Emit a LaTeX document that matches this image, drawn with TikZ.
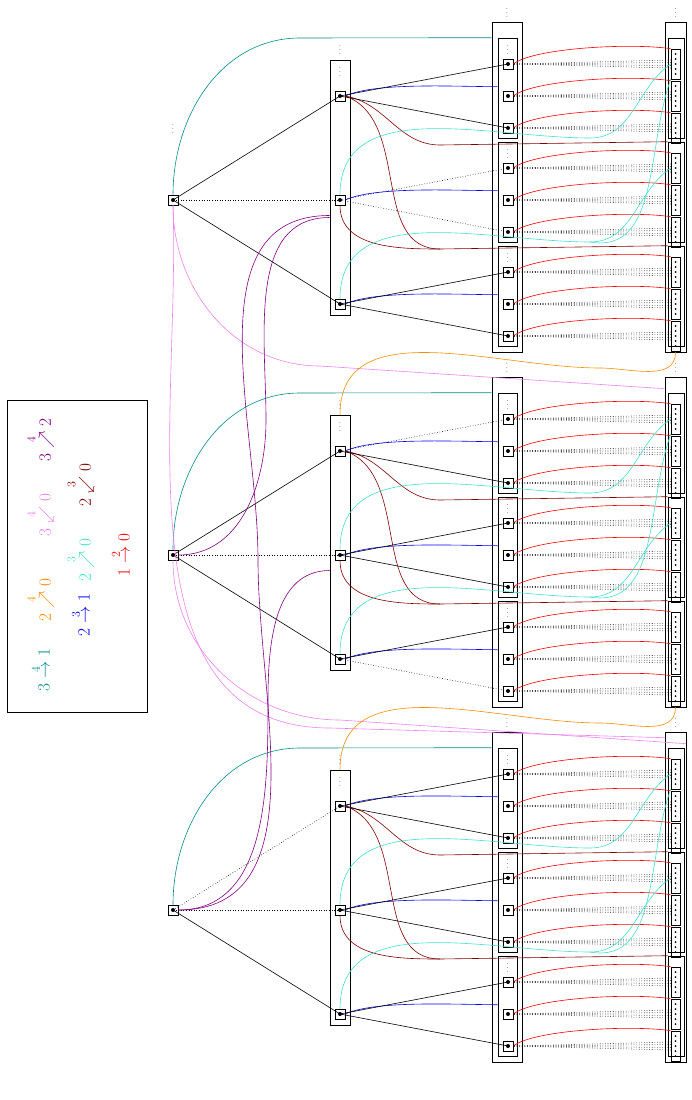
\documentclass[tikz,border=0pt]{standalone}
\usepackage{amsmath,amssymb}
\usepackage{xcolor}
\usetikzlibrary{calc}
\definecolor{tealc}{RGB}{0,140,140}
\definecolor{turq}{RGB}{64,224,208}
\definecolor{brownc}{RGB}{128,0,0}
\definecolor{purplec}{RGB}{128,0,128}
\definecolor{violetc}{RGB}{238,130,238}
\definecolor{orangec}{RGB}{255,140,0}
\tikzset{
  unit/.style={draw,minimum size=10pt,inner sep=0pt},
  cell/.style={draw,minimum width=9pt,minimum height=30pt,inner sep=0pt},
  frame/.style={draw,inner sep=0pt},
  legend/.style={rotate=90,anchor=west,font=\LARGE},
  dts/.style={font=\scriptsize,inner sep=0pt},
}
\begin{document}
\begin{tikzpicture}[x=1pt,y=-1pt,line width=0.6pt]
  \useasboundingbox (0,0) rectangle (692,1100);
  % legend
  \draw (7,400) rectangle (147,712);
  \node[legend,text=tealc] at (40,695) {$3\overset{4}{\to}1$};
  \node[legend,text=orangec] at (40,625) {$2\overset{4}{\nearrow}0$};
  \node[legend,text=violetc] at (40,540) {$3\overset{4}{\swarrow}0$};
  \node[legend,text=purplec] at (40,465) {$3\overset{4}{\nearrow}2$};
  \node[legend,text=blue] at (80,640) {$2\overset{3}{\to}1$};
  \node[legend,text=turq] at (80,585) {$2\overset{3}{\nearrow}0$};
  \node[legend,text=brownc] at (80,510) {$2\overset{3}{\swarrow}0$};
  \node[legend,text=red] at (120,580) {$1\overset{2}{\to}0$};
  \node[dts] at (173,126) {$\vdots$};
  \foreach \b in {0,1,2} {
    \begin{scope}[shift={(0,{355*\b})}]
      % level 0 and level 1
      \node[unit] (l0-\b) at (173,200) {};
      \fill (l0-\b) circle (2pt);
      \node[frame,minimum width=20pt,minimum height=255pt] (l1o-\b) at (340,187.5) {};
      \node[dts] at (340,47) {$\vdots$};
      \node[dts] at (340,69) {$\vdots$};
      % level 2 and level 3 frames
      \node[frame,minimum width=30pt,minimum height=330pt] (l2o-\b) at (507,187) {};
      \node[frame,minimum width=21pt,minimum height=330pt] (l3o-\b) at (675.5,187) {};
      \node[dts] at (507,10) {$\vdots$};
      \node[dts] at (675.5,10) {$\vdots$};
      \coordinate (tl-\b) at (300,38);
      \foreach \i/\y in {1/96,2/200,3/304} {
        \node[unit] (l1-\b-\i) at (340,\y) {};
        \fill (l1-\b-\i) circle (2pt);
        \node[frame,minimum width=19pt,minimum height=100pt] (l2b-\b-\i) at (507.5,{\y-8}) {};
        \node[frame,minimum width=16pt,minimum height=100pt] (l3b-\b-\i) at (676,{\y-8}) {};
        \node[dts] at (507.5,{\y-49}) {$\vdots$};
        \coordinate (tq-\b-\i) at (590,{\y+42});
        \coordinate (br-\b-\i) at (440,{\y-55});
        \foreach \j in {1,2,3} {
          \node[unit] (l2-\b-\i-\j) at (508,{\y+32*(\j-2)}) {};
          \fill (l2-\b-\i-\j) circle (2pt);
          \node[cell] (l3-\b-\i-\j) at (675.5,{\y+32*(\j-2)}) {};
          \foreach \d in {-10,-5,...,10}
            \fill ([yshift=\d pt]l3-\b-\i-\j.center) circle (1pt);
          \draw[red] (l2-\b-\i-\j.east) .. controls +(20,-16) and +(-40,-6) .. (l3-\b-\i-\j.north west);
          \foreach \o in {-4,-1.5,1.5,4}
            \draw[dotted] ([yshift=\o pt]l3-\b-\i-\j.west) -- (l2-\b-\i-\j.east);
        }
        \draw[blue] (l1-\b-\i.east) .. controls +(30,-14) and +(-40,0) .. ([yshift=4pt]l2b-\b-\i.west |- l2-\b-\i-2.north);
      }
      % brown
      \draw[brownc] (l1-\b-1.east) to[out=-10,in=180] (br-\b-2) -- (l3b-\b-2.north west);
      \draw[brownc] (l1-\b-1.east) to[out=-20,in=180] (br-\b-3) -- (l3b-\b-3.north west);
      \draw[brownc] (l1-\b-2.south) to[out=-90,in=180] (br-\b-3);
      % turquoise
      \draw[turq] (l1-\b-2.north) to[out=90,in=180] (tq-\b-1) to[out=0,in=215] (l3-\b-1-1.west);
      \draw[turq] (l1-\b-3.north) to[out=90,in=180] (tq-\b-2) to[out=0,in=215] (l3-\b-2-1.west);
      \draw[turq] (tq-\b-2) to[out=-10,in=250] (l3-\b-1-1.south west);
      % teal
      \draw[tealc] (l0-\b.north) to[out=90,in=180] (tl-\b) -- ([yshift=-16pt]l2o-\b.north west);
    \end{scope}
  }
  % level 0 to level 1
  \foreach \b/\sa/\sb/\sc in {0/solid/dotted/solid,1/solid/dotted/solid,2/dotted/dotted/solid} {
    \draw[\sa] (l0-\b.center) -- (l1-\b-1.center);
    \draw[\sb] (l0-\b.center) -- (l1-\b-2.center);
    \draw[\sc] (l0-\b.center) -- (l1-\b-3.center);
  }
  % level 1 to level 2
  \foreach \b/\i/\sa/\sb in {0/1/solid/solid,0/2/dotted/dotted,0/3/solid/solid,1/1/dotted/solid,1/2/solid/solid,1/3/solid/dotted,2/1/solid/solid,2/2/solid/solid,2/3/solid/solid} {
    \draw[\sa] (l1-\b-\i.center) -- (l2-\b-\i-1.center);
    \draw[\sb] (l1-\b-\i.center) -- (l2-\b-\i-3.center);
  }
  % violet
  \coordinate (vi-1) at (320,366);
  \coordinate (vi-2) at (330,728);
  \coordinate (vi-3) at (340,720);
  \draw[violetc] (l0-0.south) to[out=-90,in=180] (vi-1) -- ([yshift=-12pt]l3o-1.north west);
  \draw[violetc] (l0-0.south) to[out=-88,in=180] (vi-2) -- ([yshift=-6pt]l3o-2.north west);
  \draw[violetc] (l0-1.south) to[out=-90,in=180] (vi-3) -- ([yshift=-12pt]l3o-2.north east);
  % orange
  \coordinate (or-1) at (600,368);
  \coordinate (or-2) at (600,723);
  \draw[orangec] (l1o-1.north) to[out=90,in=180] (or-1) to[out=0,in=-90] (l3o-0.south);
  \draw[orangec] (l1o-2.north) to[out=90,in=180] (or-2) to[out=0,in=-90] (l3o-1.south);
  % purple
  \coordinate (pu-1) at (258,560);
  \coordinate (pu-2) at (268,700);
  \coordinate (pu-3) at (266,420);
  \draw[purplec] (l0-2.east) to[out=0,in=-90] (pu-1) to[out=90,in=180] ([yshift=-28pt]l1o-0.west);
  \draw[purplec] (l0-2.east) to[out=0,in=-90] (pu-2) to[out=90,in=180] ([yshift=-28pt]l1o-1.west);
  \draw[purplec] (l0-1.east) to[out=0,in=-90] (pu-3) to[out=90,in=180] ([yshift=-30pt]l1o-0.west);
\end{tikzpicture}
\end{document}
